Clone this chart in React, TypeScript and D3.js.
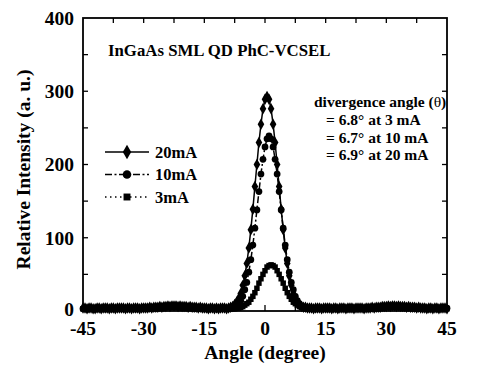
import React, { useEffect, useRef } from "react";
import * as d3 from "d3";

// angle grid (degrees), 0.5 deg step
const angles = d3.range(-45, 45.01, 0.5);

const i20mA = [
  4, 4, 3, 4, 4, 3, 3, 4, 4, 3, 4, 4, 4, 3, 4, 4, 3, 4, 4, 4,
  4, 3, 4, 4, 3, 4, 4, 4, 3, 4, 4, 4, 4, 5, 4, 5, 5, 5, 6, 5,
  6, 6, 7, 6, 7, 7, 7, 6, 7, 6, 6, 6, 5, 6, 5, 5, 5, 4, 5, 4,
  4, 4, 3, 4, 4, 3, 4, 3, 4, 4, 4, 3, 4, 5,
  6, 9, 12, 17, 24, 35, 48, 65, 86, 111, 139, 170, 200, 230, 255, 276, 289,
  293, 289, 276, 255, 230, 200, 170, 139, 111, 86, 65, 48, 35, 24, 17, 12, 9, 6,
  5, 5, 4, 4, 4, 3, 4, 4, 4, 3, 4, 4, 4, 4, 3, 4, 4, 3, 4, 4,
  4, 3, 4, 4, 4, 3, 4, 4, 4, 4, 3, 4, 4, 4, 5, 4, 5, 5, 5, 6,
  6, 6, 7, 6, 7, 7, 6, 7, 6, 6, 6, 5, 6, 5, 5, 5, 4, 5, 4, 4,
  4, 3, 4, 4, 3, 4, 4, 3, 4, 4, 4, 3,
];

const i10mA = [
  3, 4, 4, 3, 4, 3, 4, 4, 3, 4, 4, 3, 4, 4, 3, 4, 4, 3, 4, 3,
  4, 4, 3, 4, 4, 4, 3, 4, 4, 4, 5, 4, 4, 5, 5, 5, 4, 5, 5, 6,
  5, 6, 6, 7, 6, 6, 7, 6, 6, 6, 5, 6, 5, 5, 4, 5, 4, 5, 4, 4,
  3, 4, 4, 3, 4, 4, 3, 4, 4, 3, 4, 4, 4, 4,
  5, 6, 7, 10, 14, 20, 29, 39, 53, 70, 90, 113, 138, 163, 187, 207, 224,
  235, 239, 235, 224, 207, 187, 163, 138, 113, 90, 70, 53, 39, 29, 20, 14, 10, 7,
  5, 4, 4, 4, 3, 4, 4, 3, 4, 4, 3, 4, 4, 4, 4, 3, 4, 4, 4, 3,
  4, 4, 3, 4, 4, 4, 4, 3, 4, 4, 4, 4, 5, 4, 4, 5, 5, 5, 5, 6,
  5, 6, 6, 7, 6, 6, 6, 7, 6, 5, 6, 5, 5, 5, 4, 5, 4, 4, 4, 3,
  4, 4, 3, 4, 4, 4, 3, 4, 4, 3, 4, 4,
];

const i3mA = [
  3, 3, 2, 3, 3, 3, 2, 3, 3, 3, 3, 2, 3, 3, 3, 2, 3, 3, 3, 3,
  3, 2, 3, 3, 3, 3, 2, 3, 3, 3, 3, 4, 3, 3, 4, 4, 4, 4, 5, 4,
  5, 5, 5, 6, 5, 5, 5, 5, 5, 4, 5, 4, 4, 4, 4, 3, 4, 3, 3, 3,
  3, 3, 2, 3, 3, 3, 3, 2, 3, 3, 3, 3, 3, 3,
  3, 3, 4, 4, 5, 6, 8, 10, 12, 16, 20, 25, 31, 38, 44, 50, 55,
  60, 62, 63, 62, 60, 55, 50, 44, 38, 31, 25, 20, 16, 12, 10, 8, 6, 5,
  4, 4, 3, 3, 3, 3, 2, 3, 3, 3, 3, 3, 2, 3, 3, 3, 3, 2, 3, 3,
  3, 3, 3, 2, 3, 3, 3, 3, 3, 3, 3, 3, 4, 3, 4, 4, 4, 4, 4, 5,
  5, 5, 5, 6, 5, 5, 5, 5, 5, 4, 5, 4, 4, 4, 4, 3, 4, 3, 3, 3,
  3, 3, 2, 3, 3, 3, 3, 2, 3, 3, 3, 3,
];

const xTicks = [-45, -30, -15, 0, 15, 30, 45];
const yTicks = [0, 100, 200, 300, 400];

const series = [
  { name: "3mA", values: i3mA, symbol: d3.symbolSquare, size: 30, dash: "1.5,3.5" },
  { name: "10mA", values: i10mA, symbol: d3.symbolCircle, size: 36, dash: "7,2.5,2,2.5" },
  { name: "20mA", values: i20mA, symbol: d3.symbolDiamond, size: 38, dash: "none" },
];

const legendOrder = ["20mA", "10mA", "3mA"];

const notes = [
  "= 6.8° at 3 mA",
  "= 6.7° at 10 mA",
  "= 6.9° at 20 mA",
];

const W = 494;
const H = 366;
const FONT = "'Liberation Serif', 'Times New Roman', serif";

export default function App() {
  const svgRef = useRef<SVGSVGElement>(null);

  useEffect(() => {
    if (!svgRef.current) return;
    const svg = d3.select(svgRef.current);
    svg.selectAll("*").remove();

    const margin = { top: 18, right: 47, bottom: 55, left: 83 };
    const x = d3.scaleLinear().domain([-45, 45]).range([margin.left, W - margin.right]);
    const y = d3.scaleLinear().domain([0, 400]).range([H - margin.bottom, margin.top]);
    const [x0, x1] = x.range();
    const [yb, yt] = y.range();

    // frame
    svg.append("rect")
      .attr("x", x0).attr("y", yt)
      .attr("width", x1 - x0).attr("height", yb - yt)
      .attr("fill", "none").attr("stroke", "#000").attr("stroke-width", 1.8);

    // ticks, all inward
    const xt = d3.range(-45, 45.01, 7.5);
    svg.append("g").selectAll("line").data(xt.slice(1, -1)).join("line")
      .attr("x1", d => x(d)).attr("x2", d => x(d))
      .attr("y1", yt).attr("y2", yt + 5)
      .attr("stroke", "#000").attr("stroke-width", 1.3);
    svg.append("g").selectAll("line").data(xt.slice(1, -1)).join("line")
      .attr("x1", d => x(d)).attr("x2", d => x(d))
      .attr("y1", yb).attr("y2", yb - 6)
      .attr("stroke", "#000").attr("stroke-width", 1.3);
    const yt50 = d3.range(50, 400, 50);
    svg.append("g").selectAll("line").data(yt50).join("line")
      .attr("x1", x0).attr("x2", x0 + 5)
      .attr("y1", d => y(d)).attr("y2", d => y(d))
      .attr("stroke", "#000").attr("stroke-width", 1.3);
    svg.append("g").selectAll("line").data(yt50).join("line")
      .attr("x1", x1).attr("x2", x1 - 5)
      .attr("y1", d => y(d)).attr("y2", d => y(d))
      .attr("stroke", "#000").attr("stroke-width", 1.3);

    // tick labels
    svg.append("g").selectAll("text").data(xTicks).join("text")
      .attr("x", d => x(d)).attr("y", yb + 24)
      .attr("text-anchor", "middle")
      .attr("font-family", FONT).attr("font-weight", "bold").attr("font-size", 19.5)
      .text(d => d);
    svg.append("g").selectAll("text").data(yTicks).join("text")
      .attr("x", x0 - 9).attr("y", d => (d === 0 ? y(d) - 2 : y(d)))
      .attr("dy", "0.35em")
      .attr("text-anchor", "end")
      .attr("font-family", FONT).attr("font-weight", "bold").attr("font-size", 19.5)
      .text(d => d);

    // axis titles
    svg.append("text")
      .attr("x", x(0)).attr("y", 359)
      .attr("text-anchor", "middle")
      .attr("font-family", FONT).attr("font-weight", "bold").attr("font-size", 19.5)
      .text("Angle (degree)");
    svg.append("text")
      .attr("transform", `translate(30,${(yt + yb) / 2 + 5}) rotate(-90)`)
      .attr("text-anchor", "middle")
      .attr("font-family", FONT).attr("font-weight", "bold").attr("font-size", 19.5)
      .text("Relative Intensity (a. u.)");

    // series
    const line = d3.line<number>()
      .x((_, i) => x(angles[i]))
      .y(d => y(d));

    series.forEach(s => {
      svg.append("path")
        .datum(s.values)
        .attr("d", line)
        .attr("fill", "none")
        .attr("stroke", "#000")
        .attr("stroke-width", 1.5)
        .attr("stroke-dasharray", s.dash);
      const sym = d3.symbol().type(s.symbol).size(s.size);
      svg.append("g").selectAll("path").data(s.values).join("path")
        .attr("transform", (d, i) => `translate(${x(angles[i])},${y(d)})`)
        .attr("d", sym)
        .attr("fill", "#000");
    });

    // title
    svg.append("text")
      .attr("x", 108).attr("y", 56)
      .attr("font-family", FONT).attr("font-weight", "bold").attr("font-size", 16.8)
      .text("InGaAs SML QD PhC-VCSEL");

    // legend
    legendOrder.forEach((name, k) => {
      const s = series.find(v => v.name === name)!;
      const ly = 152 + k * 22.5;
      svg.append("line")
        .attr("x1", 105).attr("x2", 149)
        .attr("y1", ly).attr("y2", ly)
        .attr("stroke", "#000").attr("stroke-width", 1.5)
        .attr("stroke-dasharray", s.dash);
      svg.append("path")
        .attr("transform", `translate(127,${ly})`)
        .attr("d", d3.symbol().type(s.symbol).size(s.size * 1.6)())
        .attr("fill", "#000");
      svg.append("text")
        .attr("x", 155).attr("y", ly).attr("dy", "0.35em")
        .attr("font-family", FONT).attr("font-weight", "bold").attr("font-size", 16.5)
        .text(name);
    });

    // divergence annotation
    const ann = svg.append("text")
      .attr("x", 314).attr("y", 107)
      .attr("font-family", FONT).attr("font-weight", "bold").attr("font-size", 15.5);
    ann.append("tspan").text("divergence angle (");
    ann.append("tspan").attr("font-weight", "normal").text("θ");
    ann.append("tspan").text(")");
    notes.forEach((t, k) => {
      svg.append("text")
        .attr("x", 326).attr("y", 125 + k * 17.5)
        .attr("font-family", FONT).attr("font-weight", "bold").attr("font-size", 15.5)
        .text(t);
    });
  }, []);

  return (
    <svg
      ref={svgRef}
      width={W}
      height={H}
      style={{ position: "absolute", left: 0, top: 0, background: "#fff" }}
    />
  );
}
